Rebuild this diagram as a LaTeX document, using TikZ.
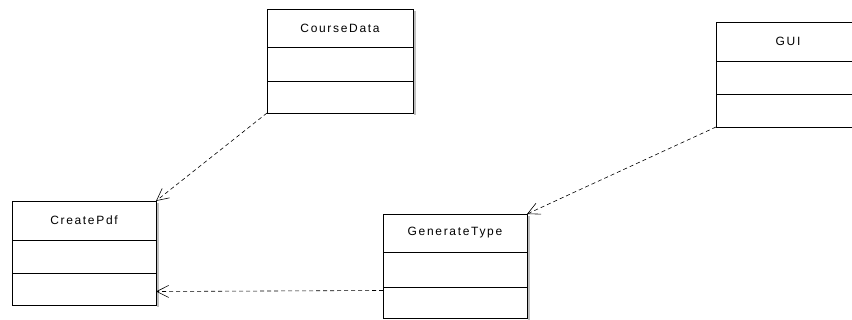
\documentclass[tikz,border=0pt]{standalone}
\usepackage{fontspec}
\setmainfont{Liberation Sans}
\newfontfamily\umlfont[LetterSpace=14]{Liberation Sans}
\usetikzlibrary{arrows.meta}
\tikzset{
  cls/.style={draw=black, line width=0.9pt, fill=white, minimum width=144pt, minimum height=104pt, inner sep=0pt, outer sep=0pt},
  shadowbox/.style={fill=black!25, draw=none},
  divider/.style={draw=black, line width=0.9pt},
  title/.style={font=\umlfont\fontsize{12}{14}\selectfont, inner sep=0pt},
  dep/.style={draw=black, line width=0.6pt, dash pattern=on 4pt off 3pt, -{Straight Barb[length=12pt,width=12pt,line width=0.6pt]}}
}
\begin{document}
\begin{tikzpicture}[x=1pt,y=-1pt]
\useasboundingbox (0,0) rectangle (852,320);
% shadows
\fill[shadowbox] (414,11) rectangle (416,115);
\fill[shadowbox] (157,203) rectangle (159,307);
\fill[shadowbox] (528,216) rectangle (530,320);
% boxes
\node[cls, minimum width=146pt] (cd) at (340,61) {};
\node[cls] (cp) at (84,253) {};
\node[cls] (gt) at (455,266) {};
\node[cls, minimum height=105pt] (gui) at (788,74.5) {};
% dividers
\draw[divider] (267,47) -- (413,47) (267,81) -- (413,81);
\draw[divider] (12,240) -- (156,240) (12,273) -- (156,273);
\draw[divider] (383,252) -- (527,252) (383,287) -- (527,287);
\draw[divider] (716,61) -- (860,61) (716,94) -- (860,94);
% titles
\node[title] (cdt) at (340,28) {CourseData};
\node[title] (cpt) at (84,220.5) {CreatePdf};
\node[title] (gtt) at (455,233) {GenerateType};
\node[title] (guit) at (788,41.5) {GUI};
% dependencies
\draw[dep] (cd.south west) -- (cp.north east);
\draw[dep] (gui.south west) -- (gt.north east);
\draw[dep] ([yshift=27.5pt]gt.south west) -- ([yshift=13.5pt]cp.south east);
\end{tikzpicture}
\end{document}
